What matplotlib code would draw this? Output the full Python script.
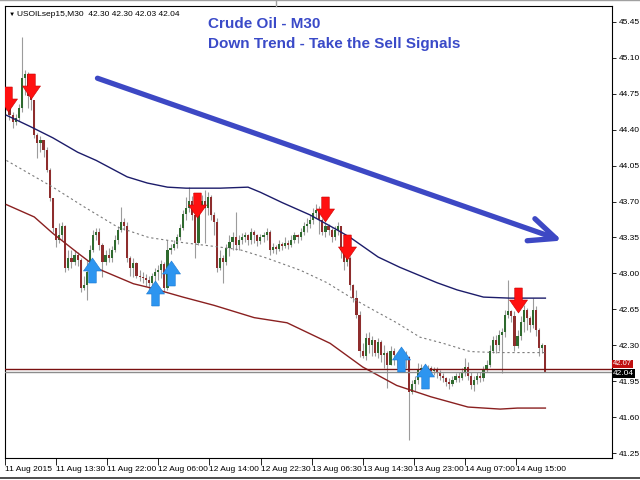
import matplotlib
matplotlib.use('Agg')
import matplotlib.pyplot as plt
from matplotlib.path import Path
from matplotlib.lines import Line2D
import numpy as np

plt.rcParams['font.family'] = ['Liberation Sans', 'DejaVu Sans']

# USOILsep15, M30 - one value per bar, oldest first
first_open = 44.74
closes = [
    44.64, 44.54, 44.47, 44.51, 44.61, 44.90, 44.94, 44.73, 44.69, 44.35,
    44.27, 44.30, 44.20, 44.01, 43.73, 43.44, 43.33, 43.37, 43.46, 43.05,
    43.15, 43.11, 43.18, 43.13, 42.86, 42.89, 43.01, 43.23, 43.37, 43.40,
    43.28, 43.11, 43.18, 43.15, 43.23, 43.33, 43.42, 43.50, 43.46, 43.15,
    43.05, 43.10, 42.98, 42.97, 42.96, 42.94, 42.91, 42.98, 43.01, 43.03,
    43.09, 42.86, 43.23, 43.25, 43.29, 43.35, 43.44, 43.58, 43.64, 43.71,
    43.57, 43.30, 43.67, 43.71, 43.64, 43.74, 43.57, 43.50, 43.05, 43.15,
    43.11, 43.25, 43.31, 43.35, 43.28, 43.33, 43.35, 43.37, 43.33, 43.40,
    43.37, 43.32, 43.35, 43.37, 43.40, 43.23, 43.26, 43.24, 43.29, 43.27,
    43.30, 43.28, 43.33, 43.37, 43.35, 43.40, 43.46, 43.48, 43.52, 43.59,
    43.62, 43.52, 43.40, 43.46, 43.42, 43.35, 43.42, 43.46, 43.23, 43.11,
    43.15, 42.89, 42.76, 42.60, 42.25, 42.20, 42.37, 42.30, 42.35, 42.23,
    42.33, 42.21, 42.23, 42.11, 42.25, 42.21, 42.16, 42.18, 42.21, 42.19,
    41.85, 41.92, 41.96, 42.06, 42.08, 42.06, 42.08, 42.05, 42.06, 42.04,
    42.00, 41.98, 41.94, 41.92, 41.96, 42.00, 41.98, 42.04, 42.09, 42.00,
    41.91, 41.96, 42.00, 41.98, 42.06, 42.11, 42.25, 42.35, 42.30, 42.40,
    42.43, 42.60, 42.63, 42.59, 42.29, 42.39, 42.53, 42.64, 42.57, 42.50,
    42.64, 42.45, 42.27, 42.30, 42.04]
highs = [
    44.79, 44.67, 44.57, 44.55, 44.65, 45.30, 44.98, 44.96, 44.77, 44.69,
    44.37, 44.34, 44.30, 44.23, 44.03, 43.73, 43.40, 43.49, 43.50, 43.47,
    43.23, 43.23, 43.23, 43.21, 43.15, 42.98, 43.13, 43.28, 43.42, 43.44,
    43.44, 43.30, 43.23, 43.25, 43.27, 43.37, 43.46, 43.65, 43.54, 43.50,
    43.17, 43.15, 43.11, 43.03, 43.01, 42.99, 42.98, 43.00, 43.05, 43.08,
    43.13, 43.11, 43.33, 43.29, 43.33, 43.38, 43.48, 43.62, 43.74, 43.84,
    43.75, 43.60, 43.71, 43.76, 43.81, 43.79, 43.76, 43.60, 43.54, 43.23,
    43.18, 43.29, 43.37, 43.40, 43.60, 43.37, 43.39, 43.40, 43.38, 43.44,
    43.42, 43.38, 43.38, 43.40, 43.44, 43.42, 43.30, 43.28, 43.33, 43.31,
    43.35, 43.33, 43.37, 43.40, 43.38, 43.44, 43.50, 43.54, 43.57, 43.64,
    43.68, 43.66, 43.54, 43.50, 43.48, 43.44, 43.46, 43.50, 43.46, 43.25,
    43.18, 43.17, 42.90, 42.84, 42.63, 42.32, 42.42, 42.43, 42.39, 42.35,
    42.37, 42.35, 42.30, 42.25, 42.29, 42.27, 42.23, 42.23, 42.25, 42.25,
    42.20, 41.96, 42.00, 42.13, 42.12, 42.10, 42.11, 42.10, 42.09, 42.09,
    42.06, 42.03, 41.99, 41.98, 42.00, 42.03, 42.04, 42.08, 42.18, 42.14,
    42.04, 42.00, 42.04, 42.04, 42.10, 42.16, 42.30, 42.39, 42.40, 42.45,
    42.47, 42.64, 42.94, 42.64, 42.63, 42.45, 42.59, 42.69, 42.66, 42.59,
    42.76, 42.68, 42.47, 42.32, 42.30]
lows = [
    44.59, 44.49, 44.42, 44.44, 44.48, 44.57, 44.74, 44.61, 44.59, 44.32,
    44.12, 44.18, 44.13, 43.99, 43.71, 43.40, 43.26, 43.30, 43.33, 43.01,
    43.03, 43.05, 43.08, 43.07, 42.82, 42.84, 42.74, 42.99, 43.21, 43.33,
    43.23, 42.97, 43.08, 43.11, 43.11, 43.21, 43.29, 43.40, 43.42, 43.11,
    42.98, 42.97, 42.96, 42.93, 42.91, 42.88, 42.84, 42.86, 42.92, 42.94,
    42.96, 42.82, 42.84, 43.19, 43.23, 43.25, 43.33, 43.42, 43.52, 43.60,
    43.52, 43.15, 43.28, 43.62, 43.30, 43.57, 43.52, 43.37, 43.01, 43.03,
    42.91, 43.08, 43.17, 43.23, 43.23, 43.23, 43.29, 43.31, 43.28, 43.29,
    43.30, 43.27, 43.29, 43.31, 43.33, 43.18, 43.20, 43.19, 43.22, 43.23,
    43.25, 43.24, 43.26, 43.30, 43.30, 43.33, 43.37, 43.40, 43.44, 43.48,
    43.54, 43.38, 43.37, 43.35, 43.37, 43.31, 43.33, 43.37, 43.15, 43.03,
    43.07, 42.84, 42.72, 42.57, 42.19, 42.18, 42.16, 42.23, 42.20, 42.20,
    42.18, 42.14, 42.08, 41.89, 42.16, 42.11, 42.08, 42.10, 42.11, 42.08,
    41.38, 41.83, 41.86, 41.92, 42.01, 42.02, 42.03, 42.01, 42.01, 41.98,
    41.96, 41.94, 41.90, 41.88, 41.90, 41.94, 41.94, 41.96, 42.00, 41.96,
    41.88, 41.86, 41.92, 41.94, 41.95, 42.04, 42.09, 42.23, 42.23, 42.25,
    42.03, 42.38, 42.57, 42.53, 42.25, 42.27, 42.35, 42.43, 42.45, 42.43,
    42.47, 42.39, 42.20, 42.23, 42.04]

# indicator lines (bar position, price)
upper_bars = [0, 7.7, 15, 23, 29, 39, 45.5, 52, 58, 69, 78, 82, 89, 98, 107,
              111, 120, 127, 139, 145.5, 154, 162.5, 169, 174]
upper_vals = [44.54, 44.43, 44.32, 44.18, 44.10, 43.94, 43.88, 43.84, 43.83,
              43.83, 43.84, 43.79, 43.69, 43.57, 43.42, 43.35, 43.16, 43.06,
              42.91, 42.84, 42.77, 42.76, 42.76, 42.76]
mid_bars = [0, 15, 25, 36, 46, 57, 68, 75.5, 84, 95, 103.5, 111, 117.5, 126,
            133.5, 141, 149.7, 158, 166, 174]
mid_vals = [44.10, 43.84, 43.65, 43.45, 43.35, 43.30, 43.26, 43.23, 43.15,
            43.03, 42.91, 42.77, 42.66, 42.52, 42.38, 42.32, 42.24, 42.23,
            42.23, 42.23]
lower_bars = [0, 9, 15, 23, 30, 41, 46.5, 57, 67, 80, 90.6, 104.5, 115, 126,
              137, 149, 159.4, 165, 174]
lower_vals = [43.67, 43.55, 43.39, 43.20, 43.04, 42.90, 42.86, 42.77, 42.69,
              42.57, 42.52, 42.32, 42.09, 41.91, 41.80, 41.70, 41.68, 41.69,
              41.69]

# signal arrows
sell_bars = [0.5, 8, 61.5, 103, 110, 165]
sell_prices = [44.70, 44.82, 43.67, 43.63, 43.26, 42.74]
buy_bars = [27.5, 48, 53, 127.5, 135]
buy_prices = [43.03, 42.81, 43.00, 42.17, 42.00]

# hand drawn trend arrow
trend_start = (29.4, 44.90)
trend_end = (179.4, 43.32)

support_level = 42.07
bid_price = 42.04

tick_bars = [-0.3, 16.1, 32.6, 49.0, 65.5, 82.3, 98.7, 115.2, 131.6, 148.1, 164.5]
tick_labels = ['11 Aug 2015', '11 Aug 13:30', '11 Aug 22:00', '12 Aug 06:00',
               '12 Aug 14:00', '12 Aug 22:30', '13 Aug 06:30', '13 Aug 14:30',
               '13 Aug 23:00', '14 Aug 07:00', '14 Aug 15:00']
price_ticks = [41.25, 41.60, 41.95, 42.30, 42.65, 43.00, 43.35, 43.70,
               44.05, 44.40, 44.75, 45.10, 45.45]

fig = plt.figure(figsize=(6.4, 4.8), dpi=100)
ax = fig.add_axes([5 / 640, 1 - 458 / 480, 607 / 640, 452 / 480])
ax.set_xlim(-0.45, 195.5)
ax.set_ylim(41.204, 45.603)

# candles
o = np.array([first_open] + closes[:-1])
c = np.array(closes)
h = np.maximum(np.array(highs), np.maximum(o, c))
l = np.minimum(np.array(lows), np.minimum(o, c))
idx = np.arange(len(c))
up = c >= o
ax.vlines(idx, l, h, color='#9c9c9c', lw=0.8, zorder=2)
body_h = np.maximum(np.abs(c - o), 0.008)
ax.bar(idx, body_h, 0.7, bottom=np.minimum(o, c),
       color=np.where(up, '#2f6a2f', '#8e2d2d'), lw=0, zorder=3)

# indicators
ax.plot(upper_bars, upper_vals, color='#1c1c6a', lw=1.0, zorder=4)
ax.plot(mid_bars, mid_vals, color='#7a7a7a', lw=0.8, ls=(0, (2, 2.5)), zorder=4)
ax.plot(lower_bars, lower_vals, color='#8a2020', lw=1.0, zorder=4)

# horizontal lines
ax.axhline(support_level, color='#7a1010', lw=1.0, zorder=4)
ax.axhline(bid_price, color='#8c8c8c', lw=1.0, zorder=4)

# signal arrows
down_arrow = Path([(-0.15, 0.5), (0.15, 0.5), (0.15, 0.02), (0.36, 0.02),
                   (0, -0.5), (-0.36, 0.02), (-0.15, 0.02), (-0.15, 0.5)])
up_arrow = Path([(x, -y) for x, y in down_arrow.vertices])
ax.plot(sell_bars, sell_prices, ls='none', marker=down_arrow, ms=18,
        color='#ff1010', mec='#c80000', mew=0.4, zorder=6)
ax.plot(buy_bars, buy_prices, ls='none', marker=up_arrow, ms=18,
        color='#2d95f0', mec='#1a78d0', mew=0.4, zorder=6)

# trend arrow
ax.annotate('', xy=trend_end, xytext=trend_start, annotation_clip=False,
            arrowprops=dict(arrowstyle='->,head_length=0.95,head_width=0.42',
                            lw=3.8, color='#3d48c4', mutation_scale=20,
                            shrinkA=0, shrinkB=0), zorder=7)

# axes styling
for s in ax.spines.values():
    s.set_color('black')
    s.set_linewidth(0.8)
ax.yaxis.tick_right()
ax.set_yticks(price_ticks)
ax.set_yticklabels(['%.2f' % p for p in price_ticks])
ax.tick_params(axis='y', labelsize=6, length=3, pad=2, width=0.6)
ax.set_xticks(tick_bars)
ax.set_xticklabels(tick_labels)
ax.tick_params(axis='x', labelsize=6, length=5, pad=1, width=0.6)
for lab in ax.get_xticklabels():
    lab.set_horizontalalignment('left')

# price labels on the axis
tr = ax.get_yaxis_transform()
ax.text(1.002, support_level + 0.05, '42.07', transform=tr, fontsize=5.5,
        color='white', va='center', ha='left', clip_on=False, zorder=8,
        bbox=dict(boxstyle='square,pad=0.1', fc='#c01010', ec='none'))
ax.text(1.002, bid_price - 0.015, '42.04', transform=tr, fontsize=6,
        color='white', va='center', ha='left', clip_on=False, zorder=9,
        bbox=dict(boxstyle='square,pad=0.12', fc='black', ec='none'))

# header texts
fig.text(0.013, 1 - 14 / 480, '\u25bc', fontsize=4.5, va='center')
fig.text(0.027, 1 - 14 / 480, 'USOILsep15,M30  42.30 42.30 42.03 42.04',
         fontsize=6, va='center')
fig.text(208 / 640, 1 - 24 / 480, 'Crude Oil - M30', fontsize=11,
         fontweight='bold', color='#3a4ac8', va='center')
fig.text(208 / 640, 1 - 44 / 480, 'Down Trend - Take the Sell Signals',
         fontsize=11, fontweight='bold', color='#3a4ac8', va='center')

# window frame
fig.add_artist(Line2D([0, 1], [0.999, 0.999], color='#a0a0a0', lw=1))
fig.add_artist(Line2D([276 / 640, 276 / 640], [0.988, 1], color='#a0a0a0', lw=1))
fig.add_artist(Line2D([0, 1], [0.004, 0.004], color='#303030', lw=1.2))

fig.savefig('out.png', dpi=100)
